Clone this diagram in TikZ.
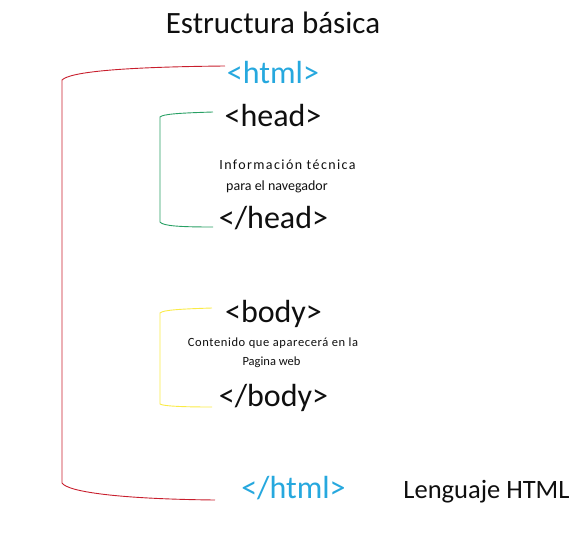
\documentclass[tikz,border=0pt]{standalone}
\usepackage{fontspec}
\setmainfont{Carlito}
\definecolor{htmlblue}{RGB}{38,168,222}
\definecolor{tagblack}{RGB}{15,15,15}
\definecolor{bred}{RGB}{200,30,45}
\definecolor{bgreen}{RGB}{40,160,100}
\definecolor{byellow}{RGB}{250,235,70}
\begin{document}
\begin{tikzpicture}[x=1pt,y=-1pt,
  tag/.style={anchor=base,inner sep=0pt,font=\fontsize{32}{36}\selectfont,text=tagblack},
  htag/.style={tag,text=htmlblue},
  note/.style={anchor=base,inner sep=0pt,text=tagblack},
  brk/.style={line width=0.9pt}]
\useasboundingbox (0,0) rectangle (582,533);
\node[tag,font=\fontsize{31}{36}\selectfont] (title) at (273,33) {Estructura básica};
\node[htag] (html) at (273,83) {<html>};
\node[tag] (head) at (273,126) {<head>};
\node[note,font=\fontsize{14}{16}\selectfont\addfontfeatures{LetterSpace=10}] (info1) at (287.5,169) {Información técnica};
\node[note,font=\fontsize{14}{16}\selectfont] (info2) at (277,190) {para el navegador};
\node[tag] (chead) at (273.5,228) {</head>};
\node[tag] (body) at (273.5,322) {<body>};
\node[note,font=\fontsize{12.5}{15}\selectfont\addfontfeatures{LetterSpace=5}] (cont1) at (273,346) {Contenido que aparecerá en la};
\node[note,font=\fontsize{12.5}{15}\selectfont] (cont2) at (271.5,365) {Pagina web};
\node[tag] (cbody) at (273.5,406) {</body>};
\node[htag] (chtml) at (293.5,498) {</html>};
\node[tag,font=\fontsize{26.5}{30}\selectfont] (lang) at (486.5,498) {Lenguaje HTML};
% bracket end points
\coordinate (r1) at (225,66);
\coordinate (r2) at (215,500);
\coordinate (g1) at (213,112);
\coordinate (g2) at (213,227);
\coordinate (y1) at (212,308);
\coordinate (y2) at (212,407);
\draw[brk,bred] (r1) .. controls (120,67) and (70,72) .. (62,80) -- (62,483) .. controls (68,492) and (120,499) .. (r2);
\draw[brk,bgreen] (g1) .. controls (180,113) and (163,114) .. (160,117) -- (160,222) .. controls (163,226) and (180,227) .. (g2);
\draw[brk,byellow] (y1) .. controls (180,309) and (163,310) .. (160,313) -- (160,404) .. controls (163,406) and (180,407) .. (y2);
\end{tikzpicture}
\end{document}
